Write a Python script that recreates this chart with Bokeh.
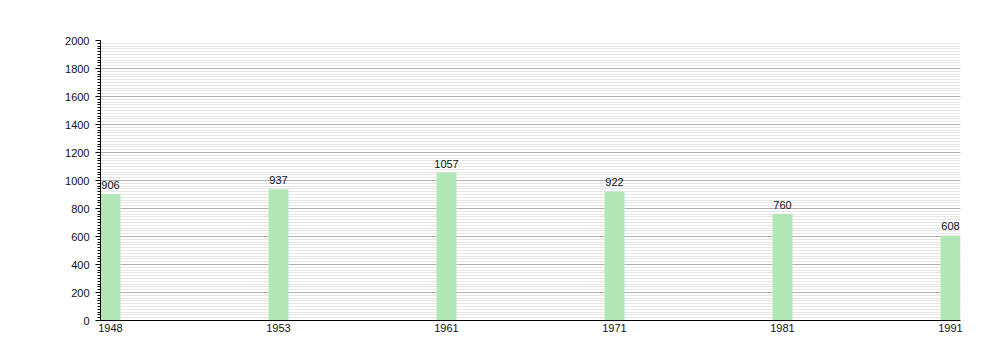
from bokeh.plotting import figure
from bokeh.models import ColumnDataSource, SingleIntervalTicker, FixedTicker, Range1d
from bokeh.embed import file_html
from bokeh.resources import INLINE

years = ["1948", "1953", "1961", "1971", "1981", "1991"]
population = [906, 937, 1057, 922, 760, 608]

idx = list(range(len(years)))
src = ColumnDataSource(dict(x=idx, top=population, label=[str(v) for v in population]))

p = figure(width=1000, height=360, output_backend="svg", toolbar_location=None,
           x_range=Range1d(-10/168, 5 + 10/168), y_range=Range1d(0, 2000),
           min_border_left=100, min_border_right=40, min_border_top=40, min_border_bottom=40)
p.outline_line_color = None
p.background_fill_color = "white"

p.vbar(x="x", top="top", width=20/168, source=src, fill_color="#b3e6b5", line_color=None)
p.text(x="x", y="top", text="label", source=src, text_align="center", text_baseline="bottom",
       y_offset=-5, text_font_size="11px", text_color="#111111", text_font={"value": "Liberation Sans"})

p.xaxis.ticker = FixedTicker(ticks=idx)
p.xaxis.major_label_overrides = {i: y for i, y in enumerate(years)}
p.xaxis.major_tick_line_color = None
p.xaxis.minor_tick_line_color = None
p.xaxis.major_tick_out = 0
p.xaxis.major_tick_in = 0
p.xaxis.axis_line_color = "black"
p.xaxis.major_label_standoff = 3
p.xaxis.major_label_text_font = "Liberation Sans"
p.xaxis.major_label_text_font_size = "11px"
p.xaxis.major_label_text_color = "#111111"

p.yaxis.ticker = SingleIntervalTicker(interval=200, num_minor_ticks=10)
p.yaxis.axis_line_color = "black"
p.yaxis.major_tick_line_color = "black"
p.yaxis.minor_tick_line_color = "black"
p.yaxis.major_tick_out = 5
p.yaxis.major_tick_in = 0
p.yaxis.minor_tick_out = 3
p.yaxis.minor_tick_in = 0
p.yaxis.major_label_standoff = 6
p.yaxis.major_label_text_font = "Liberation Sans"
p.yaxis.major_label_text_font_size = "11px"
p.yaxis.major_label_text_color = "#111111"

p.xgrid.grid_line_color = None
p.ygrid.grid_line_color = "#b0b0b0"
p.ygrid.minor_grid_line_color = "#e6e6e6"

open("out.html", "w").write(file_html(p, INLINE))
